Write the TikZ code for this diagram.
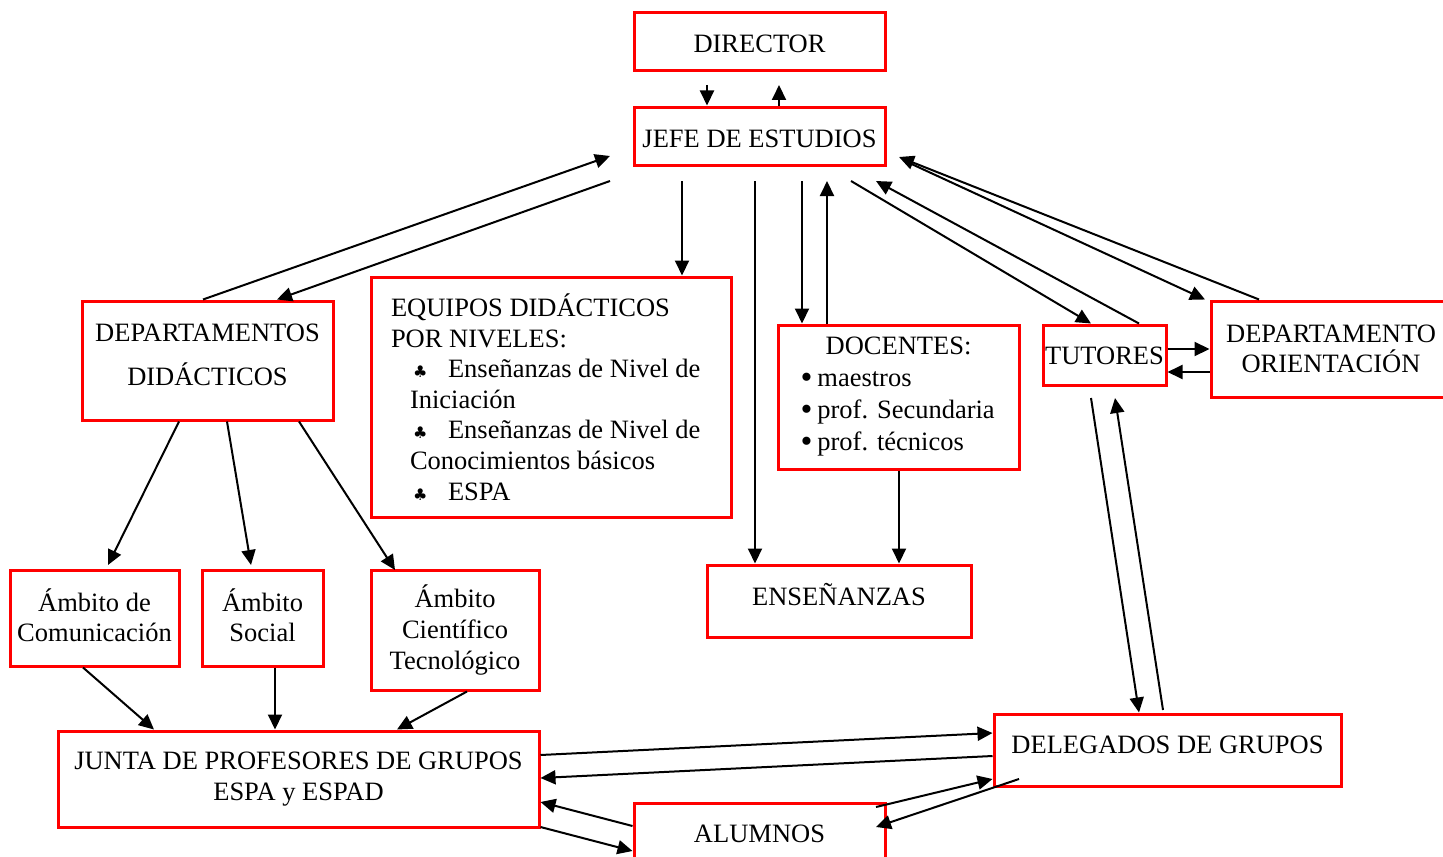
\documentclass[tikz,border=0pt]{standalone}
\usepackage{fontspec}
\setmainfont{Liberation Serif}
\newfontfamily\symfont{DejaVu Sans}
\usetikzlibrary{arrows.meta}
\newcommand{\clubb}{\makebox[19pt][l]{\hspace{1.5pt}{\symfont\fontsize{8}{8}\selectfont ♣}}}
\newcommand{\tl}[2]{\raisebox{#1}[8.8pt][0pt]{#2}}
\newcommand{\bl}[1]{\makebox[98pt][l]{{\fontsize{17}{16}\selectfont\raisebox{-1pt}[6pt][0pt]{•}}\hspace{2.5pt}#1}}
\newcommand{\xdepth}[1]{\rule[-#1]{0pt}{#1}}
\begin{document}
\begin{tikzpicture}[x=0.5pt,y=-0.5pt,
  box/.style={draw=red,line width=1.5pt,rectangle,inner sep=0pt,align=center,
    font=\fontsize{13.25}{15.3}\selectfont},
  arr/.style={line width=1pt,-{Triangle[length=7.5pt,width=7pt]}}]
\useasboundingbox (0,0) rectangle (1443,856);
\fill[white] (0,0) rectangle (1443,856);
% boxes
\node[box,minimum width=125.5pt,minimum height=29pt] (director) at (759.5,42) {\tl{-1pt}{DIRECTOR}};
\node[box,minimum width=125.5pt,minimum height=29pt] (jefe) at (759.5,136) {\tl{-1.5pt}{JEFE DE ESTUDIOS}};
\node[box,minimum width=125.5pt,minimum height=59.5pt] (deptdid) at (207.5,360.5) {DEPARTAMENTOS\\[6.7pt]DIDÁCTICOS\xdepth{6pt}};
\node[box,minimum width=180pt,minimum height=120pt,text width=160pt,align=flush left,inner xsep=10pt] (equipos) at (551,397)
 {EQUIPOS DIDÁCTICOS\\
  POR NIVELES:\\
  \hspace*{9.5pt}\clubb Enseñanzas de Nivel de\\
  \hspace*{9.5pt}Iniciación\\
  \hspace*{9.5pt}\clubb Enseñanzas de Nivel de\\
  \hspace*{9.5pt}Conocimientos básicos\\
  \hspace*{9.5pt}\clubb ESPA};
\node[box,minimum width=120.5pt,minimum height=72pt,
  font=\fontsize{13.25}{16}\selectfont] (docentes) at (898.5,397)
 {DOCENTES:\\
  \bl{maestros}\\
  \bl{prof. Secundaria}\\
  \bl{prof. técnicos}};
\node[box,minimum width=61.5pt,minimum height=30pt] (tutores) at (1104.5,355) {\tl{-0.5pt}{TUTORES}};
\node[box,minimum width=120pt,minimum height=48pt] (deptori) at (1331,349) {DEPARTAMENTO\\ORIENTACIÓN};
\node[box,minimum width=132pt,minimum height=36pt] (ensen) at (839,601) {\tl{2pt}{ENSEÑANZAS}};
\node[box,minimum width=84.5pt,minimum height=48pt] (amcom) at (94.5,618) {Ámbito de\\Comunicación\xdepth{3pt}};
\node[box,minimum width=60.5pt,minimum height=48pt] (amsoc) at (262.5,618) {Ámbito\\Social\xdepth{3pt}};
\node[box,minimum width=84pt,minimum height=60pt] (amcie) at (455,630) {Ámbito\\Científico\\Tecnológico};
\node[box,minimum width=240.5pt,minimum height=48pt] (junta) at (298.5,779) {JUNTA DE PROFESORES DE GRUPOS\\ESPA y ESPAD};
\node[box,minimum width=173.5pt,minimum height=36pt] (deleg) at (1167.5,750) {\tl{2.5pt}{DELEGADOS DE GRUPOS}};
\node[box,minimum width=125.5pt,minimum height=36pt] (alumnos) at (759.5,839) {\tl{2.5pt}{ALUMNOS}};
% director <-> jefe
\draw[arr] (707,85) -- (jefe.north -| 707,0);
\draw[arr] (jefe.north -| 779,0) -- (779,85);
% jefe <-> departamentos didacticos
\draw[arr] (deptdid.north -| 203,0) -- (610,156);
\draw[arr] (610,181) -- (deptdid.north -| 277,0);
% jefe -> equipos, ensenanzas, docentes
\draw[arr] (682,181) -- (equipos.north -| 682,0);
\draw[arr] (755,181) -- (ensen.north -| 755,0);
\draw[arr] (802,181) -- (docentes.north -| 802,0);
\draw[arr] (docentes.north -| 827,0) -- (827,181);
% jefe <-> tutores
\draw[arr] (851,181) -- (tutores.north -| 1091,0);
\draw[arr] (tutores.north -| 1139,0) -- (876,181);
% jefe <-> dept orientacion
\draw[arr] (deptori.north -| 1259,0) -- (899,157);
\draw[arr] (905,161) -- (deptori.north -| 1205,0);
% tutores <-> dept orientacion
\draw[arr] (tutores.east |- 0,349) -- (deptori.west |- 0,349);
\draw[arr] (deptori.west |- 0,372) -- (tutores.east |- 0,372);
% tutores <-> delegados
\draw[arr] (1091,398) -- (deleg.north -| 1139,0);
\draw[arr] (1163,710) -- (1115,398);
% docentes -> ensenanzas
\draw[arr] (docentes.south -| 899,0) -- (ensen.north -| 899,0);
% dept didacticos -> ambitos
\draw[arr] (deptdid.south -| 179,0) -- (108,565);
\draw[arr] (deptdid.south -| 227,0) -- (251,565);
\draw[arr] (deptdid.south -| 299,0) -- (395,570);
% ambitos -> junta
\draw[arr] (amcom.south -| 83,0) -- (junta.north -| 154,0);
\draw[arr] (amsoc.south -| 275,0) -- (junta.north -| 275,0);
\draw[arr] (amcie.south -| 467,0) -- (junta.north -| 397,0);
% junta <-> delegados
\draw[arr] (junta.east |- 0,755) -- (deleg.west |- 0,733);
\draw[arr] (deleg.west |- 0,756) -- (junta.east |- 0,778);
% junta <-> alumnos
\draw[arr] (alumnos.west |- 0,826) -- (junta.east |- 0,802);
\draw[arr] (junta.east |- 0,827) -- (alumnos.west |- 0,851);
% alumnos <-> delegados
\draw[arr] (876,807) -- (deleg.west |- 0,779);
\draw[arr] (1019,779) -- (876,827);
\end{tikzpicture}
\end{document}
